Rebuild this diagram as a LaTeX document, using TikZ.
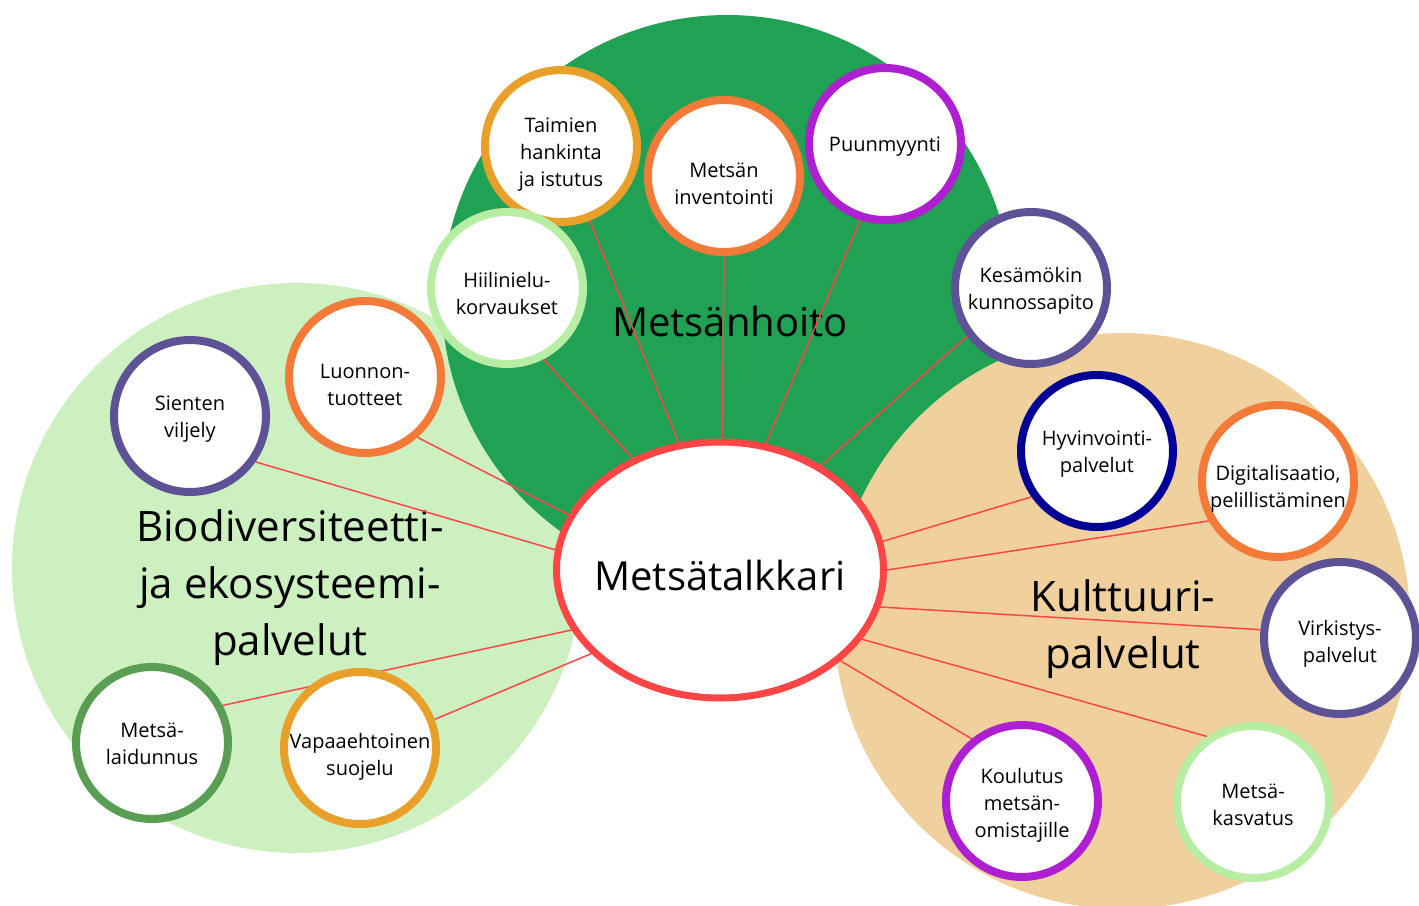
\documentclass[tikz,border=0pt]{standalone}
\usepackage{fontspec}
\setmainfont{Open Sans}
\usetikzlibrary{shapes.geometric}
\definecolor{darkg}{HTML}{21A153}
\definecolor{lightg}{HTML}{CDF0C0}
\definecolor{tanc}{HTML}{F0D09C}
\definecolor{hubred}{HTML}{FF4545}
\definecolor{orng}{HTML}{F47A3A}
\definecolor{gold}{HTML}{E8A02A}
\definecolor{purp}{HTML}{AE1FD1}
\definecolor{lav}{HTML}{5E5296}
\definecolor{navy}{HTML}{000096}
\definecolor{pale}{HTML}{B8EDA4}
\definecolor{mgreen}{HTML}{5A9E54}
\pgfdeclarelayer{bg}
\pgfdeclarelayer{lines}
\pgfsetlayers{bg,lines,main}
\tikzset{
  bub/.style={circle, fill=white, line width=8pt, minimum size=152pt, inner sep=0pt},
  bubtext/.style={align=center, inner sep=0pt, font=\fontsize{20}{27}\selectfont},
  hubnode/.style={ellipse, fill=white, draw=hubred, line width=7pt, minimum width=327pt, minimum height=256pt, inner sep=0pt},
  hubtext/.style={inner sep=0pt, font=\fontsize{40}{48}\selectfont},
  biglabel/.style={align=center, font=\fontsize{42}{57}\selectfont},
  conn/.style={draw=hubred, line width=1.5pt}
}
\newcommand{\bubble}[6]{%
  \node[bub, draw=#2] (#1) at (#3,#4) {};
  \node[bubtext] (#1-t) at (#3,#4+#5) {#6};}
\begin{document}
\begin{tikzpicture}[x=1pt,y=-1pt]
\useasboundingbox (0,0) rectangle (1419,905);
% hub and bubbles
\node[hubnode] (hub) at (720,570) {};
\node[hubtext] (hub-t) at (720,575) {Metsätalkkari};
\bubble{taimien}{gold}{561}{146}{9}{Taimien\\hankinta\\ja istutus}
\bubble{invent}{orng}{724}{176}{8}{Metsän\\inventointi}
\bubble{puun}{purp}{885}{144}{3}{Puunmyynti}
\bubble{hiili}{pale}{507}{288}{5}{Hiilinielu-\\korvaukset}
\bubble{kesa}{lav}{1031}{288}{3}{Kesämökin\\kunnossapito}
\bubble{luonnon}{orng}{365}{377}{8}{Luonnon-\\tuotteet}
\bubble{sienten}{lav}{190}{416}{3}{Sienten\\viljely}
\bubble{laidun}{mgreen}{152}{743}{1}{Metsä-\\laidunnus}
\bubble{vapaa}{gold}{360}{748}{9}{Vapaaehtoinen\\suojelu}
\bubble{hyvin}{navy}{1097}{451}{3.5}{Hyvinvointi-\\palvelut}
\bubble{digi}{orng}{1278}{481}{7.5}{Digitalisaatio,\\pelillistäminen}
\bubble{virk}{lav}{1340}{638}{6}{Virkistys-\\palvelut}
\bubble{koul}{purp}{1022}{801}{4}{Koulutus\\metsän-\\omistajille}
\bubble{kasv}{pale}{1253}{802}{3}{Metsä-\\kasvatus}
% background regions and labels
\begin{pgfonlayer}{bg}
\fill[lightg] (297,568) circle (285pt);
\fill[darkg] (727,300) circle (285pt);
\fill[tanc] (1122,621) circle (288pt);
\node[biglabel, font=\fontsize{40}{57}\selectfont] (lblhoito) at (730,321) {Metsänhoito};
\node[biglabel] (lblbio) at (290,588) {Biodiversiteetti-\\ja ekosysteemi-\\palvelut};
\node[biglabel] (lblkult) at (1123,629) {Kulttuuri-\\palvelut};
\end{pgfonlayer}
% connectors
\begin{pgfonlayer}{lines}
\draw[conn] (hub.108.4) -- (taimien.-69.8);
\draw[conn] (hub.89.2) -- (invent.-90);
\draw[conn] (hub.70) -- (puun.-108.6);
\draw[conn] (hub.46.6) -- (kesa.-143.6);
\draw[conn] (hub.128.2) -- (hiili.-63.4);
\draw[conn] (hub.160.7) -- (luonnon.-49);
\draw[conn] (hub.173.2) -- (sienten.-35.2);
\draw[conn] (hub.202.1) -- (laidun.28.7);
\draw[conn] (hub.213.2) -- (vapaa.21.9);
\draw[conn] (hub.10.6) -- (hyvin.215.1);
\draw[conn] (hub.-0.7) -- (digi.210);
\draw[conn] (hub.-13.4) -- (virk.174.3);
\draw[conn] (hub.-26.6) -- (kasv.125.3);
\draw[conn] (hub.-37.9) -- (koul.129.2);
\end{pgfonlayer}
\end{tikzpicture}
\end{document}
